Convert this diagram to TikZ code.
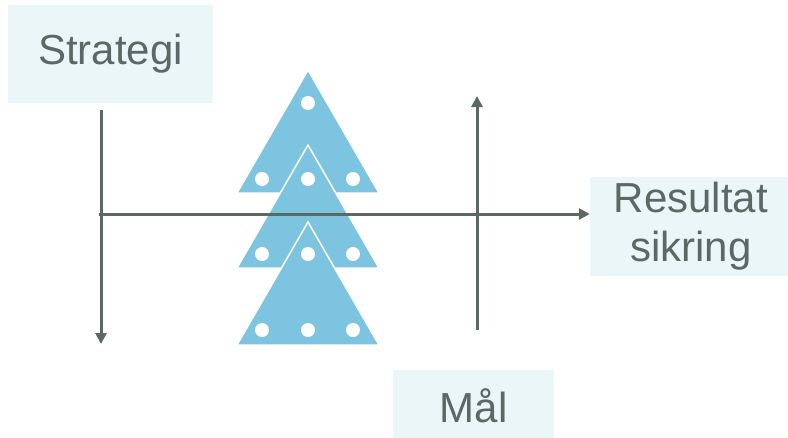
\documentclass[tikz,border=0pt]{standalone}
\usepackage{fontspec}
\setmainfont{Liberation Sans}
\usetikzlibrary{arrows.meta}
\definecolor{boxfill}{HTML}{EAF6F8}
\definecolor{ink}{HTML}{5C6864}
\definecolor{tri}{HTML}{7CC4E0}
\tikzset{
  lbl/.style={fill=boxfill, text=ink, font=\fontsize{42}{49}\selectfont, align=center, inner sep=0pt},
  axis/.style={draw=ink, line width=3pt, -{Triangle[length=11pt,width=11pt]}},
  trishape/.style={fill=tri, draw=white, line width=1.5pt, line join=miter},
  dot/.style={fill=white, draw=none}
}
\begin{document}
\begin{tikzpicture}[x=1pt,y=-1pt]
\useasboundingbox (0,0) rectangle (788,437);
\clip (0,0) rectangle (788,437);
% label boxes
\node[lbl, minimum width=205pt, minimum height=98pt] (strat) at (110.5,54) {Strategi};
\node[lbl, minimum width=202pt, minimum height=99pt] (res) at (691,226) {Resultat\\sikring};
\node[lbl, minimum width=161pt, minimum height=72pt] (maal) at (473.5,406) {Mål};
% axis end points
\coordinate (lt) at (101,110);
\coordinate (lb) at (101,344);
\coordinate (hl) at (99,214);
\coordinate (rb) at (477,330);
\coordinate (rt) at (477,96);
% triangles
\path[trishape] (308,70) -- (379,193) -- (237,193) -- cycle;
\path[trishape] (308,145) -- (379,268) -- (237,268) -- cycle;
\path[trishape] (308,222) -- (379,345) -- (237,345) -- cycle;
% dots
\foreach \p in {(308,103),(262,179),(353,179),(308,179),(262,254),(353,254),(308,254),(262,330),(308,330),(353,330)}
  \fill[dot] \p circle (7pt);
% axes
\draw[axis] (lt) -- (lb);
\draw[axis] (hl) -- (hl -| res.west);
\draw[axis] (rb) -- (rt);
\end{tikzpicture}
\end{document}
